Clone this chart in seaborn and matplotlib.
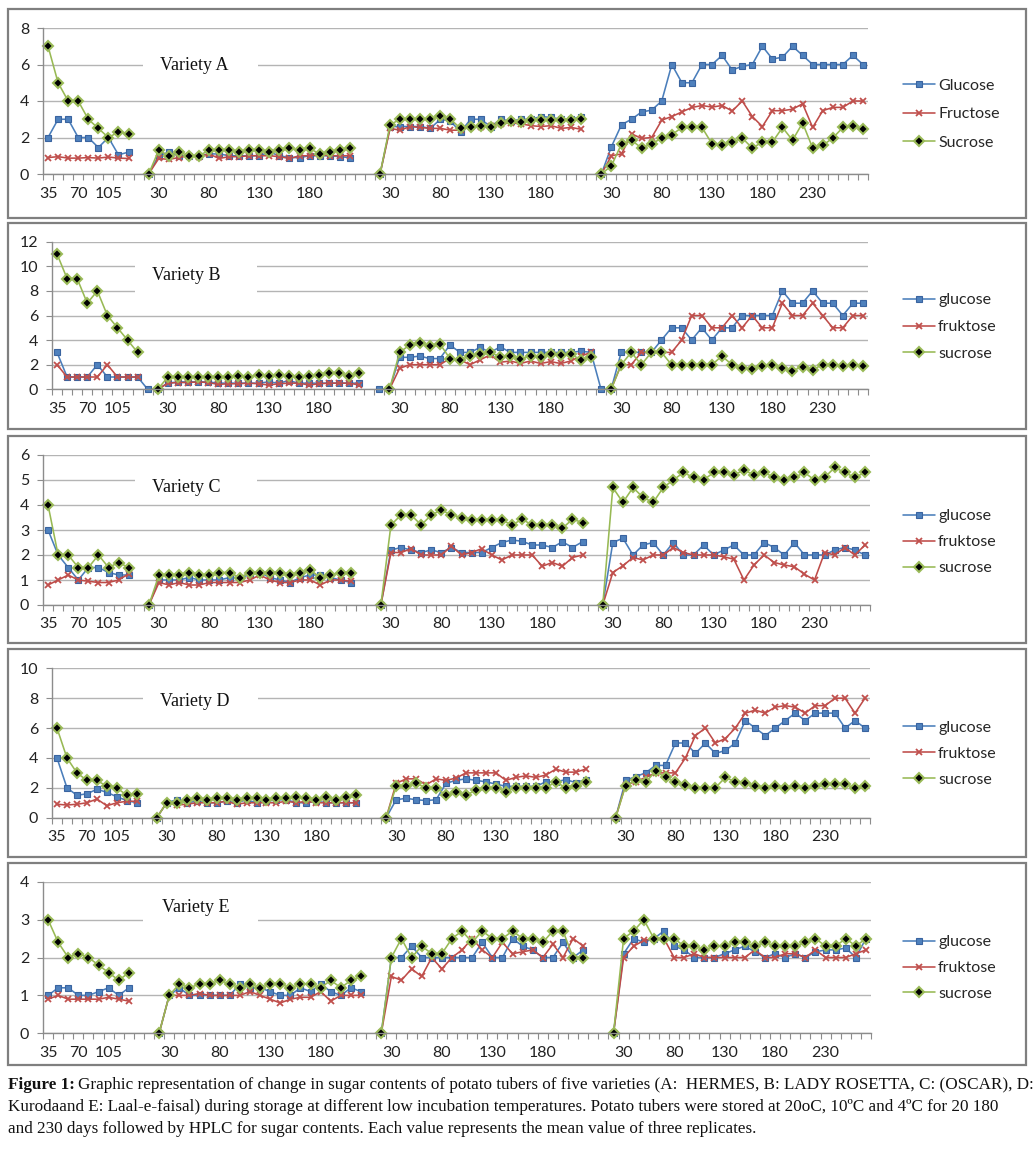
import numpy as np
import pandas as pd
import matplotlib as mpl
import matplotlib.pyplot as plt
from matplotlib.lines import Line2D
from matplotlib.patches import Rectangle
import seaborn as sns

# Sugar contents, one inner list per storage block
# Variety A
glucose_A = [
    [2.0, 3.0, 3.0, 2.0, 2.0, 1.45, 2.0, 1.05, 1.2],
    [0, 1.0, 1.2, 1.0, 1.0, 1.0, 1.1, 1.1, 1.0, 1.0, 1.0, 1.0, 1.2, 1.0, 0.9, 0.9, 1.0, 1.0, 1.0, 0.95, 0.9],
    [0, 2.6, 2.6, 2.6, 2.6, 2.5, 3.0, 2.9, 2.3, 3.0, 3.0, 2.6, 3.0, 2.9, 3.0, 3.0, 3.15, 3.1, 3.0, 3.0, 3.15],
    [0, 1.5, 2.7, 3.0, 3.4, 3.5, 4.0, 6.0, 5.0, 5.0, 6.0, 6.0, 6.5, 5.7, 5.9, 6.0, 7.0, 6.3, 6.4, 7.0, 6.5, 6.0, 6.0, 6.0, 6.0, 6.5, 6.0],
]
fructose_A = [
    [0.9, 0.95, 0.87, 0.87, 0.9, 0.87, 0.93, 0.87, 0.85],
    [0, 0.85, 0.8, 0.9, 1.0, 0.95, 1.1, 0.85, 0.95, 0.95, 1.0, 1.0, 1.0, 0.95, 0.85, 1.0, 1.0, 1.05, 1.0, 1.0, 1.0],
    [0, 2.5, 2.4, 2.6, 2.55, 2.5, 2.5, 2.4, 2.4, 2.6, 2.6, 2.65, 2.75, 2.8, 2.75, 2.65, 2.6, 2.65, 2.5, 2.55, 2.45],
    [0, 1.0, 1.1, 2.2, 1.95, 2.0, 2.95, 3.15, 3.4, 3.65, 3.75, 3.67, 3.75, 3.45, 4.0, 3.15, 2.6, 3.47, 3.47, 3.55, 3.85, 2.55, 3.47, 3.65, 3.65, 4.0, 4.0],
]
sucrose_A = [
    [7.0, 5.0, 4.0, 4.0, 3.0, 2.5, 2.0, 2.3, 2.2],
    [0, 1.3, 1.0, 1.2, 1.0, 1.0, 1.3, 1.3, 1.3, 1.2, 1.3, 1.3, 1.2, 1.3, 1.4, 1.3, 1.4, 1.1, 1.2, 1.3, 1.4],
    [0, 2.7, 3.0, 3.0, 3.0, 3.0, 3.2, 3.0, 2.5, 2.55, 2.65, 2.55, 2.8, 2.9, 2.85, 2.95, 2.95, 2.95, 2.95, 2.95, 3.0],
    [0, 0.45, 1.65, 1.85, 1.42, 1.65, 1.97, 2.15, 2.55, 2.55, 2.55, 1.65, 1.57, 1.75, 1.97, 1.42, 1.75, 1.75, 2.55, 1.85, 2.8, 1.42, 1.57, 1.97, 2.55, 2.65, 2.47],
]

# Variety B
glucose_B = [
    [3.0, 1.0, 1.0, 1.0, 2.0, 1.0, 1.0, 1.0, 1.0, 0],
    [0, 0.5, 0.6, 0.6, 0.6, 0.6, 0.5, 0.5, 0.5, 0.5, 0.5, 0.6, 0.5, 0.7, 0.5, 0.5, 0.5, 0.5, 0.5, 0.5, 0.5],
    [0, 0, 2.6, 2.6, 2.7, 2.5, 2.5, 3.6, 3.0, 3.0, 3.4, 3.0, 3.45, 3.0, 3.0, 3.0, 3.0, 3.0, 3.0, 3.0, 3.1, 3.0, 0],
    [0, 3.0, 3.0, 3.0, 3.0, 4.0, 5.0, 5.0, 4.0, 5.0, 4.0, 5.0, 5.0, 6.0, 6.0, 6.0, 6.0, 8.0, 7.0, 7.0, 8.0, 7.0, 7.0, 6.0, 7.0, 7.0],
]
fructose_B = [
    [2.0, 1.0, 1.0, 1.0, 1.0, 2.0, 1.0, 1.0, 1.0],
    [0, 0.5, 0.55, 0.55, 0.6, 0.55, 0.4, 0.45, 0.45, 0.5, 0.45, 0.35, 0.45, 0.5, 0.5, 0.35, 0.45, 0.5, 0.5, 0.5, 0.35],
    [0, 1.7, 2.0, 2.0, 2.0, 2.0, 2.5, 2.4, 2.0, 2.4, 2.8, 2.2, 2.3, 2.1, 2.3, 2.1, 2.25, 2.1, 2.3, 2.7, 3.0],
    [0, 2.0, 2.0, 3.0, 3.0, 3.0, 3.0, 4.0, 6.0, 6.0, 5.0, 5.0, 6.0, 5.0, 6.0, 5.0, 5.0, 7.0, 6.0, 6.0, 7.0, 6.0, 5.0, 5.0, 6.0, 6.0],
]
sucrose_B = [
    [11, 9, 9, 7, 8, 6, 5, 4, 3],
    [0, 1.0, 1.0, 1.0, 1.0, 1.0, 1.0, 1.0, 1.1, 1.0, 1.2, 1.1, 1.2, 1.1, 1.0, 1.1, 1.2, 1.3, 1.3, 1.1, 1.3],
    [0, 3.0, 3.6, 3.8, 3.5, 3.7, 2.5, 2.4, 2.7, 2.9, 3.0, 2.65, 2.7, 2.5, 2.7, 2.6, 2.85, 2.8, 2.85, 2.4, 2.65],
    [0, 2.0, 3.0, 2.0, 3.0, 3.0, 2.0, 2.0, 2.0, 2.0, 2.0, 2.7, 2.0, 1.7, 1.65, 1.9, 2.0, 1.7, 1.5, 1.85, 1.6, 2.0, 2.0, 1.9, 2.0, 1.9],
]

# Variety C
glucose_C = [
    [3.0, 2.0, 1.5, 1.0, 1.5, 1.5, 1.3, 1.2, 1.2],
    [0, 1.0, 1.0, 1.0, 1.1, 1.0, 1.0, 1.0, 1.1, 1.1, 1.2, 1.3, 1.1, 1.0, 0.9, 1.1, 1.2, 1.2, 1.1, 1.0, 0.9],
    [0, 2.2, 2.3, 2.2, 2.1, 2.2, 2.1, 2.3, 2.1, 2.1, 2.1, 2.3, 2.5, 2.6, 2.55, 2.4, 2.4, 2.3, 2.53, 2.3, 2.53],
    [0, 2.5, 2.67, 2.0, 2.4, 2.5, 2.0, 2.5, 2.0, 2.0, 2.4, 2.0, 2.2, 2.4, 2.0, 2.0, 2.5, 2.3, 2.0, 2.5, 2.0, 2.0, 2.0, 2.2, 2.3, 2.2, 2.0],
]
fructose_C = [
    [0.8, 1.0, 1.2, 1.0, 0.95, 0.9, 0.9, 1.0, 1.25],
    [0, 0.9, 0.8, 0.9, 0.8, 0.8, 0.9, 0.9, 0.9, 0.9, 1.0, 1.2, 1.0, 0.9, 0.9, 1.0, 1.0, 0.8, 1.0, 1.0, 0.95],
    [0, 2.1, 2.1, 2.25, 2.0, 2.0, 2.0, 2.35, 2.0, 2.1, 2.25, 2.0, 1.8, 2.0, 2.0, 2.0, 1.55, 1.7, 1.55, 1.9, 2.0],
    [0, 1.3, 1.57, 1.9, 1.8, 2.0, 2.0, 2.3, 2.1, 2.0, 2.0, 2.0, 1.93, 1.83, 1.0, 1.6, 2.0, 1.7, 1.6, 1.53, 1.23, 1.0, 2.1, 2.0, 2.3, 2.0, 2.4],
]
sucrose_C = [
    [4.0, 2.0, 2.0, 1.5, 1.5, 2.0, 1.5, 1.7, 1.5],
    [0, 1.2, 1.2, 1.2, 1.3, 1.2, 1.2, 1.3, 1.3, 1.1, 1.3, 1.3, 1.3, 1.3, 1.2, 1.3, 1.4, 1.1, 1.2, 1.3, 1.3],
    [0, 3.2, 3.6, 3.6, 3.2, 3.6, 3.8, 3.6, 3.5, 3.4, 3.4, 3.4, 3.4, 3.2, 3.43, 3.2, 3.2, 3.2, 3.07, 3.43, 3.3],
    [0, 4.7, 4.1, 4.7, 4.3, 4.1, 4.7, 5.0, 5.3, 5.1, 5.0, 5.3, 5.3, 5.2, 5.4, 5.2, 5.3, 5.1, 5.0, 5.1, 5.3, 5.0, 5.1, 5.5, 5.3, 5.1, 5.3],
]

# Variety D
glucose_D = [
    [4.0, 2.0, 1.5, 1.6, 1.9, 1.7, 1.4, 1.15, 1.0],
    [0, 1.0, 1.2, 1.0, 1.1, 1.0, 1.0, 1.1, 1.0, 1.2, 1.0, 1.1, 1.2, 1.2, 1.0, 1.0, 1.1, 1.0, 1.0, 1.0, 1.0],
    [0, 1.2, 1.3, 1.2, 1.15, 1.2, 2.3, 2.5, 2.6, 2.5, 2.4, 2.25, 2.1, 2.1, 2.1, 2.1, 2.4, 2.4, 2.55, 2.35, 2.55],
    [0, 2.5, 2.75, 3.0, 3.5, 3.5, 5.0, 5.0, 4.3, 5.0, 4.3, 4.5, 5.0, 6.5, 6.0, 5.5, 6.0, 6.5, 7.0, 6.5, 7.0, 7.0, 7.0, 6.0, 6.5, 6.0],
]
fructose_D = [
    [0.9, 0.85, 0.9, 1.0, 1.25, 0.8, 1.0, 1.1, 1.1],
    [0, 1.0, 0.85, 0.9, 1.0, 1.0, 1.0, 1.1, 0.9, 1.0, 1.0, 1.0, 1.0, 1.1, 1.0, 1.1, 1.0, 1.0, 1.0, 1.0, 1.0],
    [0, 2.3, 2.6, 2.6, 2.2, 2.6, 2.5, 2.65, 3.0, 3.0, 3.0, 3.0, 2.5, 2.7, 2.8, 2.7, 2.85, 3.25, 3.05, 3.05, 3.25],
    [0, 2.2, 2.4, 2.7, 3.0, 3.0, 3.0, 4.0, 5.5, 6.0, 5.0, 5.3, 6.0, 7.0, 7.2, 7.0, 7.4, 7.5, 7.4, 7.0, 7.5, 7.5, 8.0, 8.0, 7.0, 8.0],
]
sucrose_D = [
    [6.0, 4.0, 3.0, 2.5, 2.5, 2.1, 2.0, 1.5, 1.6],
    [0, 1.0, 1.0, 1.2, 1.3, 1.2, 1.3, 1.3, 1.2, 1.3, 1.3, 1.2, 1.3, 1.3, 1.4, 1.3, 1.2, 1.4, 1.2, 1.4, 1.5],
    [0, 2.1, 2.1, 2.3, 2.0, 2.0, 1.5, 1.7, 1.5, 1.85, 2.0, 2.0, 1.75, 2.0, 2.0, 2.0, 2.0, 2.4, 2.0, 2.15, 2.37],
    [0, 2.14, 2.5, 2.37, 3.1, 2.7, 2.37, 2.2, 2.0, 2.0, 2.0, 2.7, 2.4, 2.35, 2.12, 2.0, 2.12, 2.0, 2.12, 2.0, 2.12, 2.23, 2.23, 2.23, 2.0, 2.12],
]

# Variety E
glucose_E = [
    [1.0, 1.2, 1.2, 1.0, 1.0, 1.1, 1.2, 1.0, 1.2],
    [0, 1.0, 1.2, 1.0, 1.0, 1.0, 1.0, 1.0, 1.3, 1.2, 1.2, 1.1, 1.0, 1.0, 1.2, 1.1, 1.3, 1.1, 1.0, 1.2, 1.1],
    [0, 2.0, 2.0, 2.3, 2.0, 2.0, 2.0, 2.0, 2.0, 2.0, 2.4, 2.0, 2.0, 2.5, 2.3, 2.2, 2.0, 2.0, 2.4, 2.0, 2.2],
    [0, 2.1, 2.5, 2.4, 2.5, 2.7, 2.3, 2.2, 2.0, 2.0, 2.0, 2.1, 2.2, 2.3, 2.15, 2.0, 2.1, 2.0, 2.1, 2.0, 2.15, 2.2, 2.2, 2.25, 2.0, 2.5],
]
fructose_E = [
    [0.9, 1.0, 0.9, 0.9, 0.9, 0.9, 0.95, 0.9, 0.85],
    [0, 1.0, 1.0, 1.0, 1.05, 1.0, 1.0, 1.0, 1.0, 1.1, 1.0, 0.9, 0.8, 0.9, 0.95, 0.95, 1.1, 0.85, 1.0, 1.0, 1.0],
    [0, 1.5, 1.4, 1.7, 1.5, 2.0, 1.7, 2.0, 2.2, 2.5, 2.2, 2.0, 2.4, 2.1, 2.15, 2.2, 2.0, 2.35, 2.0, 2.5, 2.3],
    [0, 2.0, 2.3, 2.45, 2.5, 2.5, 2.0, 2.0, 2.1, 2.0, 2.0, 2.0, 2.0, 2.0, 2.2, 2.0, 2.0, 2.1, 2.1, 2.0, 2.2, 2.0, 2.0, 2.0, 2.1, 2.2],
]
sucrose_E = [
    [3.0, 2.4, 2.0, 2.1, 2.0, 1.8, 1.6, 1.4, 1.6],
    [0, 1.0, 1.3, 1.2, 1.3, 1.3, 1.4, 1.3, 1.2, 1.3, 1.2, 1.3, 1.3, 1.2, 1.3, 1.3, 1.2, 1.4, 1.2, 1.4, 1.5],
    [0, 2.0, 2.5, 2.0, 2.3, 2.1, 2.1, 2.5, 2.7, 2.4, 2.7, 2.5, 2.5, 2.7, 2.5, 2.5, 2.4, 2.7, 2.7, 2.0, 2.0],
    [0, 2.5, 2.7, 3.0, 2.5, 2.5, 2.5, 2.3, 2.3, 2.2, 2.3, 2.3, 2.4, 2.4, 2.3, 2.4, 2.3, 2.3, 2.3, 2.4, 2.5, 2.3, 2.3, 2.5, 2.3, 2.5],
]

# day labels shown under each block
days_first = ['35', '70', '105']
days_mid = ['30', '80', '130', '180']
days_last = ['30', '80', '130', '180', '230']

legend_A = ['Glucose', 'Fructose', 'Sucrose']
legend_other = ['glucose', 'fruktose', 'sucrose']

caption_1 = ('Graphic representation of change in sugar contents of potato tubers of five varieties '
             '(A:  HERMES, B: LADY ROSETTA, C: (OSCAR), D:')
caption_2 = ('Kurodaand E: Laal-e-faisal) during storage at different low incubation temperatures. '
             'Potato tubers were stored at 20oC, 10\u00baC and 4\u00baC for 20 180')
caption_3 = 'and 230 days followed by HPLC for sugar contents. Each value represents the mean value of three replicates.'

data = {
    'A': {'glucose': glucose_A, 'fructose': fructose_A, 'sucrose': sucrose_A},
    'B': {'glucose': glucose_B, 'fructose': fructose_B, 'sucrose': sucrose_B},
    'C': {'glucose': glucose_C, 'fructose': fructose_C, 'sucrose': sucrose_C},
    'D': {'glucose': glucose_D, 'fructose': fructose_D, 'sucrose': sucrose_D},
    'E': {'glucose': glucose_E, 'fructose': fructose_E, 'sucrose': sucrose_E},
}

# category slot where each block starts on the shared axis
seg_starts = {'A': [0, 10, 33, 55], 'B': [0, 10, 33, 55], 'C': [0, 10, 33, 55],
              'D': [0, 10, 33, 56], 'E': [0, 11, 33, 56]}
glucose_B_starts = [0, 10, 32, 55]
n_slots = {'A': 82, 'B': 81, 'C': 82, 'D': 82, 'E': 82}

# page layout in pixels
W, H = 1036, 1150
layout = {
    'A': dict(box=(8, 9, 1026, 218), plot=(43, 868, 28, 174), ymax=8, ystep=2,
              title_x=160, title_y=65, white=(143, 258), leg_y=114, leg_sp=0.9),
    'B': dict(box=(8, 223, 1026, 429), plot=(52, 868, 241.7, 389.3), ymax=12, ystep=2,
              title_x=152, title_y=275, white=(135, 257), leg_y=327, leg_sp=0.8),
    'C': dict(box=(8, 436, 1026, 643), plot=(43, 870, 455, 605), ymax=6, ystep=1,
              title_x=152, title_y=487, white=(135, 257), leg_y=542, leg_sp=0.74),
    'D': dict(box=(8, 649, 1026, 857), plot=(52, 870, 668.3, 817.7), ymax=10, ystep=2,
              title_x=160, title_y=701, white=(143, 258), leg_y=754, leg_sp=0.74),
    'E': dict(box=(8, 863, 1026, 1065), plot=(43, 871, 881.7, 1033.3), ymax=4, ystep=1,
              title_x=162, title_y=907, white=(143, 258), leg_y=968, leg_sp=0.72),
}

styles = {
    'glucose': dict(color='#4A7EBB', linewidth=1.15, marker='s', markersize=4.8,
                    markerfacecolor='#4F81BD', markeredgecolor='#3A64A0', markeredgewidth=0.8),
    'fructose': dict(color='#BE4B48', linewidth=1.15, marker='x', markersize=4.0,
                     markeredgecolor='#C0504D', markeredgewidth=1.3),
    'sucrose': dict(color='#98B954', linewidth=1.15, marker='D', markersize=5.6,
                    markerfacecolor='black', markeredgecolor='#9BBB59', markeredgewidth=1.5),
}
sugars = ['glucose', 'fructose', 'sucrose']

# long table: one row per plotted point
rows = []
for panel, series in data.items():
    for sugar, segs in series.items():
        starts = glucose_B_starts if (panel == 'B' and sugar == 'glucose') else seg_starts[panel]
        for k, (s0, vals) in enumerate(zip(starts, segs)):
            for j, v in enumerate(vals):
                rows.append({'panel': panel, 'sugar': sugar, 'seg': k, 'pos': s0 + j, 'value': v})
df = pd.DataFrame(rows)

sns.set_theme(style='white')
plt.rcParams['font.family'] = ['Lato', 'DejaVu Sans']
grey = '#8C8C8C'


def fig_rect(l, r, t, b):
    return [l / W, 1 - b / H, (r - l) / W, (b - t) / H]


fig = plt.figure(figsize=(W / 100, H / 100), dpi=100)
fig.patch.set_facecolor('white')

for panel in ['A', 'B', 'C', 'D', 'E']:
    lay = layout[panel]
    x0, y0, x1, y1 = lay['box']
    fig.add_artist(Rectangle((x0 / W, 1 - y1 / H), (x1 - x0) / W, (y1 - y0) / H,
                             transform=fig.transFigure, fill=False, ec='#7F7F7F', lw=1.6, zorder=0))

    ax = fig.add_axes(fig_rect(*lay['plot']))
    sub = df[df['panel'] == panel]
    for sugar in sugars:
        sns.lineplot(data=sub[sub['sugar'] == sugar], x='pos', y='value', units='seg',
                     estimator=None, sort=False, ax=ax, legend=False, clip_on=False,
                     **styles[sugar])

    n = n_slots[panel]
    ax.set_xlim(-0.5, n - 0.5)
    ax.set_ylim(0, lay['ymax'])
    ax.set(xlabel='', ylabel='')

    # x labels: a few day values per storage block
    st = seg_starts[panel]
    ticks = [st[0] + o for o in [0, 3, 6]]
    labels = list(days_first)
    for s0 in st[1:3]:
        ticks += [s0 + o for o in [1, 6, 11, 16]]
        labels += days_mid
    ticks += [st[3] + o for o in [1, 6, 11, 16, 21]]
    labels += days_last
    ax.set_xticks(ticks)
    ax.set_xticklabels(labels)
    ax.set_xticks(np.arange(-0.5, n, 1), minor=True)
    ax.set_yticks(np.arange(0, lay['ymax'] + 0.01, lay['ystep']))

    ax.tick_params(axis='x', which='major', length=0, pad=9, labelsize=11.5, labelcolor='#222222')
    ax.tick_params(axis='x', which='minor', length=4, width=0.8, color=grey, direction='out', bottom=True)
    ax.tick_params(axis='y', length=4, width=0.8, color=grey, direction='out', left=True,
                   pad=6, labelsize=11.5, labelcolor='#222222')

    ax.yaxis.grid(True, color='#B4B4B4', lw=1.0)
    ax.xaxis.grid(False)
    ax.set_axisbelow(True)
    for side in ['top', 'right']:
        ax.spines[side].set_visible(False)
    for side in ['left', 'bottom']:
        ax.spines[side].set_color(grey)
        ax.spines[side].set_linewidth(1.0)

    # variety label on a white patch over the gridlines
    wx0, wx1 = lay['white']
    ty = lay['title_y'] + (3 if panel == 'B' else 0)
    ax.add_patch(Rectangle((wx0 / W, 1 - (ty + 15) / H), (wx1 - wx0) / W, 30 / H,
                           transform=fig.transFigure, fc='white', ec='none', zorder=1))
    fig.text(lay['title_x'] / W, 1 - lay['title_y'] / H, 'Variety ' + panel,
             family=['Liberation Serif', 'DejaVu Serif'], fontsize=13, ha='left', va='center',
             color='#111111')

    # legend
    names = legend_A if panel == 'A' else legend_other
    handles = [Line2D([], [], **styles[s]) for s in sugars]
    ax.legend(handles, names, loc='center left', bbox_to_anchor=(903 / W, 1 - lay['leg_y'] / H),
              bbox_transform=fig.transFigure, frameon=False, fontsize=11.5, handlelength=2.0,
              handletextpad=0.2, labelspacing=lay['leg_sp'], borderpad=0, borderaxespad=0,
              numpoints=1)

# caption, fitted to the page width
renderer = fig.canvas.get_renderer()
serif = ['Liberation Serif', 'DejaVu Serif']
probe = fig.text(0, 0, 'Figure 1: ' + caption_1, fontsize=12, family=serif)
w12 = probe.get_window_extent(renderer).width
probe.remove()
cap_fs = 12 * 1018 / w12

head = fig.text(8 / W, 1 - 1085 / H, 'Figure 1:', fontsize=cap_fs, family=serif,
                fontweight='bold', va='center', color='#111111')
hb = head.get_window_extent(renderer)
fig.text((hb.x1 + 0.25 * cap_fs) / W, 1 - 1085 / H, caption_1, fontsize=cap_fs, family=serif,
         va='center', color='#111111')
fig.text(8 / W, 1 - 1107 / H, caption_2, fontsize=cap_fs, family=serif, va='center', color='#111111')
fig.text(8 / W, 1 - 1129 / H, caption_3, fontsize=cap_fs, family=serif, va='center', color='#111111')

fig.savefig('out.png', dpi=100, facecolor='white')
plt.close(fig)
